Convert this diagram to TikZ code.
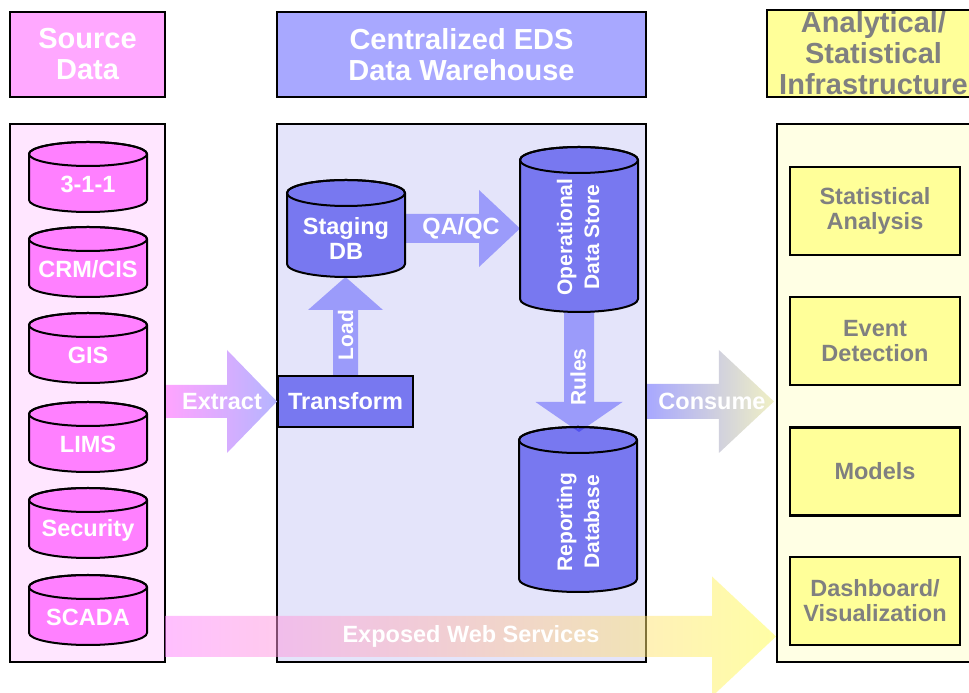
\documentclass[tikz,border=0pt]{standalone}
\usepackage{fontspec}
\setmainfont{Liberation Sans}
\usetikzlibrary{calc}

\definecolor{srcHeadFill}{HTML}{FFA8FF}
\definecolor{srcPanelFill}{HTML}{FFE6FF}
\definecolor{srcCylFill}{HTML}{FF80FF}
\definecolor{dwHeadFill}{HTML}{A8A8FF}
\definecolor{dwPanelFill}{HTML}{E4E4FA}
\definecolor{dwCylFill}{HTML}{7878F0}
\definecolor{flowFill}{HTML}{AEAEFF}
\definecolor{anHeadFill}{HTML}{FFFF99}
\definecolor{anPanelFill}{HTML}{FFFFE4}
\definecolor{anBoxFill}{HTML}{FFFF99}
\definecolor{anText}{HTML}{808080}
\definecolor{consumeEnd}{HTML}{F0F0C4}

\newcommand\headfont{\fontsize{29}{31}\selectfont\bfseries}
\newcommand\labfont{\fontsize{23.5}{25}\selectfont\bfseries}
\newcommand\rotfont{\fontsize{21}{27}\selectfont\bfseries}

\def\cylry{12}
% database cylinder: #1 name, #2 centre x, #3 top y, #4 bottom y, #5 half width, #6 fill
\newcommand\dbcyl[6]{%
  \draw[cylline, fill=#6] ({#2-#5},{#3-\cylry}) -- ({#2-#5},{#4+\cylry})
     arc[start angle=180, end angle=360, x radius=#5, y radius=\cylry]
     -- ({#2+#5},{#3-\cylry})
     arc[start angle=0, end angle=180, x radius=#5, y radius=\cylry] -- cycle;
  \draw[cylline] (#2,{#3-\cylry}) ellipse[x radius=#5, y radius=\cylry];
  \coordinate (#1-top) at (#2,#3);
  \coordinate (#1-bot) at (#2,#4);
  \coordinate (#1-west) at ({#2-#5},{(#3+#4)/2});
  \coordinate (#1-east) at ({#2+#5},{(#3+#4)/2});
}
% horizontal block arrow: #1 style, #2 from, #3 tip, #4 shaft half width, #5 head half width, #6 head length
\newcommand\harrow[6]{%
  \path[#1] let \p1=(#2), \p2=(#3) in
    ({\x1},{\y1+#4}) -- ({\x2-(#6)},{\y1+#4}) -- ({\x2-(#6)},{\y1+#5}) -- ({\x2},{\y1})
    -- ({\x2-(#6)},{\y1-#5}) -- ({\x2-(#6)},{\y1-#4}) -- ({\x1},{\y1-#4}) -- cycle;
}
% vertical block arrow: #6 is the signed head length (positive points up)
\newcommand\varrow[6]{%
  \path[#1] let \p1=(#2), \p2=(#3) in
    ({\x1-#4},{\y1}) -- ({\x1-#4},{\y2-(#6)}) -- ({\x1-#5},{\y2-(#6)}) -- ({\x1},{\y2})
    -- ({\x1+#5},{\y2-(#6)}) -- ({\x1+#4},{\y2-(#6)}) -- ({\x1+#4},{\y1}) -- cycle;
}

\begin{document}
\begin{tikzpicture}[x=1pt, y=1pt,
  headbox/.style={draw=black, line width=2.2pt, inner sep=0pt, align=center, font=\headfont},
  panel/.style={draw=black, line width=2.2pt, inner sep=0pt},
  cylline/.style={draw=black, line width=2pt},
  flow/.style={fill=flowFill, blend mode=multiply},
  flowtext/.style={text=white, font=\labfont},
  dblabel/.style={text=white, font=\labfont, align=center},
  rotlabel/.style={text=white, font=\rotfont, align=center, rotate=90},
  anbox/.style={draw=black, line width=2.4pt, fill=anBoxFill, minimum width=170pt,
    minimum height=88pt, inner sep=0pt, text=anText, font=\labfont, align=center}]
\useasboundingbox (0,0) rectangle (969,693);
\clip (0,0) rectangle (969,693);
\fill[white] (0,0) rectangle (969,693);

% column headers
\node[headbox, fill=srcHeadFill, text=white, minimum width=155pt, minimum height=85pt]
  (srcHead) at (87.5,638.5) {Source\\Data};
\node[headbox, fill=dwHeadFill, text=white, minimum width=369pt, minimum height=85pt]
  (dwHead) at (461.5,638.5) {Centralized EDS\\Data Warehouse};
\node[headbox, fill=anHeadFill, text=anText, minimum width=213pt, minimum height=87pt]
  (anHead) at (873.5,639.5) {Analytical/\\Statistical\\Infrastructure};

% column panels
\node[panel, fill=srcPanelFill, minimum width=155pt, minimum height=538pt] (srcPanel) at (87.5,300) {};
\node[panel, fill=dwPanelFill, minimum width=369pt, minimum height=538pt] (dwPanel) at (461.5,300) {};
\node[panel, fill=anPanelFill, minimum width=208pt, minimum height=538pt] (anPanel) at (881,300) {};

% source databases
\dbcyl{c311}{88}{551}{481}{59}{srcCylFill}
\dbcyl{ccrm}{88}{466}{396}{59}{srcCylFill}
\dbcyl{cgis}{88}{380}{310}{59}{srcCylFill}
\dbcyl{clims}{88}{291}{221}{59}{srcCylFill}
\dbcyl{csec}{88}{205}{135}{59}{srcCylFill}
\dbcyl{cscada}{88}{118}{48}{59}{srcCylFill}
\node[dblabel] (l311) at (88,509) {3-1-1};
\node[dblabel] (lcrm) at (88,424) {CRM/CIS};
\node[dblabel] (lgis) at (88,338) {GIS};
\node[dblabel] (llims) at (88,249) {LIMS};
\node[dblabel] (lsec) at (88,163) {Security};
\node[dblabel] (lscada) at (88,76) {SCADA};

% warehouse stores
\def\cylry{13}
\dbcyl{stg}{346}{513}{416}{59}{dwCylFill}
\dbcyl{ods}{579}{546}{381}{59}{dwCylFill}
\dbcyl{rep}{578}{266}{101}{59}{dwCylFill}
\node[draw=black, line width=2pt, fill=dwCylFill, minimum width=135pt, minimum height=51pt,
  inner sep=0pt, text=white, font=\labfont] (trans) at (345.5,291.5) {Transform};

% flows inside the warehouse
\coordinate (rulesTip) at ($(rep-top)+(0,-5)$);
\varrow{flow}{trans.north}{stg-bot}{12.5}{37.5}{33}
\harrow{flow}{stg-east}{ods-west}{14.5}{38.5}{41}
\varrow{flow}{ods-bot}{rulesTip}{15}{43.5}{-30}

% flows between the columns
\harrow{left color=srcHeadFill!90!srcCylFill, right color=dwHeadFill!85!white}
  {$(srcPanel.east |- trans.west)$}{trans.west}{16.5}{51.5}{50}
\harrow{left color=dwHeadFill, right color=consumeEnd}
  {$(dwPanel.east |- trans.west)$}{$(anPanel.west |- trans.west)+(-2,0)$}{17.5}{51.5}{55}
\coordinate (wsFrom) at (165,56.5);
\coordinate (wsTo) at (776,56.5);
\harrow{left color=srcCylFill, right color=yellow!70!white, opacity=0.5}
  {wsFrom}{wsTo}{20.5}{60}{64}

% analysis tools
\node[anbox] (stat) at (875,482) {Statistical\\Analysis};
\node[anbox] (event) at (875,352) {Event\\Detection};
\node[anbox] (models) at (875,221.5) {Models};
\node[anbox] (dash) at (875,92) {Dashboard/\\Visualization};

% labels
\node[dblabel] (lstg) at (346,455) {Staging\\DB};
\node[rotlabel] (lods) at (578,456) {Operational\\Data Store};
\node[rotlabel] (lrep) at (578,171) {Reporting\\Database};
\node[rotlabel] (lload) at (345.5,358) {Load};
\node[rotlabel] (lrules) at (578,316) {Rules};
\node[flowtext] (lqa) at (461,465) {QA/QC};
\node[flowtext] (lext) at (222,291.5) {Extract};
\node[flowtext] (lcons) at (712,292) {Consume};
\node[flowtext] (lws) at (471,57) {Exposed Web Services};
\end{tikzpicture}
\end{document}
